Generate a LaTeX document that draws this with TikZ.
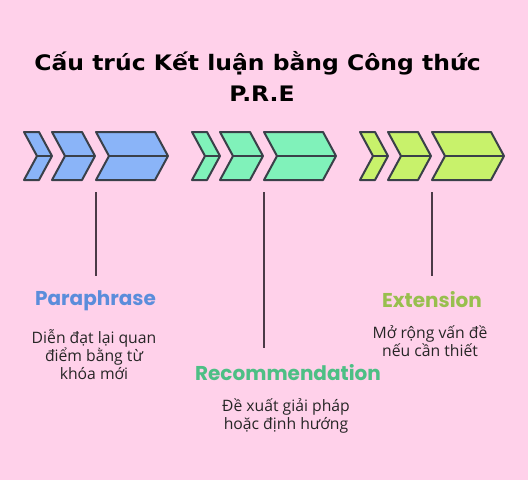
\documentclass[tikz,border=0pt]{standalone}
\usepackage{fontspec}
\setmainfont{Open Sans}
\newfontfamily\headfont{Poppins}
\newfontfamily\titlefont[FakeStretch=1.1]{DejaVu Sans}
\usetikzlibrary{calc}
\definecolor{bgpink}{HTML}{FFD1EA}
\definecolor{edge}{HTML}{3A4049}
\definecolor{stemcol}{HTML}{4B3A47}
\definecolor{pblue}{HTML}{8AB4F8}
\definecolor{rgreen}{HTML}{80F2BA}
\definecolor{elime}{HTML}{C8F26B}
\definecolor{pbluetxt}{HTML}{5B8DDB}
\definecolor{rgreentxt}{HTML}{4DBF85}
\definecolor{elimetxt}{HTML}{98BF4E}
\def\chevron[#1](#2)(#3){\draw[chev,fill=#1] (#2,132) -- ++(#3,0) -- ++(13,24) -- ++(-13,24) -- ++(-#3,0) -- ++(13,-24) -- cycle;
	\draw[chev] (#2+13,156) -- ++(#3,0);}

\begin{document}
\begin{tikzpicture}[x=0.75pt,y=-0.75pt,
	chev/.style={line width=1.5pt, draw=edge, line join=round},
	stem/.style={line width=1.5pt, draw=stemcol},
	heading/.style={font=\headfont\bfseries\fontsize{15}{17}\selectfont},
	desc/.style={font=\fontsize{11.8}{13.6}\selectfont, align=center, text=black!85}]
	%%%%% START %%%%%
	
	\fill[bgpink] (0,0) rectangle (528,480);
	
	\node[font=\titlefont\bfseries\fontsize{16}{18}\selectfont] (title) at (257.5,63) {Cấu trúc Kết luận bằng Công thức};
	\node[font=\titlefont\bfseries\fontsize{16}{18}\selectfont] (titlePRE) at (262,94) {P.R.E};
	
	% Paraphrase
	\chevron[pblue](24)(15);
	\chevron[pblue](52)(30);
	\chevron[pblue](96)(59);
	
	% Recommendation
	\chevron[rgreen](192)(15);
	\chevron[rgreen](220)(30);
	\chevron[rgreen](264)(59);
	
	% Extension
	\chevron[elime](360)(15);
	\chevron[elime](388)(30);
	\chevron[elime](432)(59);
	
	\coordinate (pTop) at (96,192);
	\coordinate (pEnd) at (96,276);
	\coordinate (rTop) at (264,192);
	\coordinate (rEnd) at (264,348);
	\coordinate (eTop) at (432,192);
	\coordinate (eEnd) at (432,276);
	\draw[stem] (pTop) -- (pEnd);
	\draw[stem] (rTop) -- (rEnd);
	\draw[stem] (eTop) -- (eEnd);
	
	\node[heading, text=pbluetxt] (para) at (95.5,301) {Paraphrase};
	\node[desc] (paraDesc) at (94,354.5) {Diễn đạt lại quan\\điểm bằng từ\\khóa mới};
	
	\node[heading, text=rgreentxt] (reco) at (288,373) {Recommendation};
	\node[desc] (recoDesc) at (286,415.5) {Đề xuất giải pháp\\hoặc định hướng};
	
	\node[heading, text=elimetxt] (ext) at (432,300) {Extension};
	\node[desc] (extDesc) at (430,341) {Mở rộng vấn đề\\nếu cần thiết};
	
	%%%%% END %%%%%
\end{tikzpicture}
\end{document}
